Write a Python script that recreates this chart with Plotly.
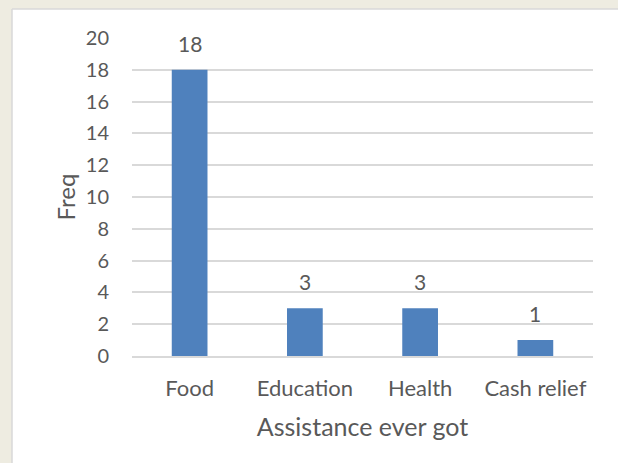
import plotly.graph_objects as go

categories = ["Food", "Education", "Health", "Cash relief"]
freq = [18, 3, 3, 1]
y_ticks = [0, 2, 4, 6, 8, 10, 12, 14, 16, 18, 20]

W, H = 618, 463
L, R, T, B = 132, 25, 38, 107
pw = W - L - R
ph = H - T - B

def px_x(x):
    return (x - L) / pw

def px_y(y):
    return (H - B - y) / ph

FONT = "Lato"
GRAY = "#595959"

fig = go.Figure()
fig.add_trace(go.Bar(
    x=categories, y=freq,
    marker=dict(color="#4F81BD", line=dict(width=0)),
    cliponaxis=False,
))

for c, v in zip(categories, freq):
    fig.add_annotation(x=c, y=v, text=str(v), showarrow=False,
                       yanchor="bottom", yshift=12,
                       font=dict(family=FONT, size=21, color=GRAY))

# white chart panel with light border on left/top
fig.add_shape(type="rect", xref="paper", yref="paper",
              x0=px_x(12), x1=px_x(W + 5), y0=px_y(9), y1=px_y(H + 5),
              fillcolor="white", line=dict(width=0), layer="below")
fig.add_shape(type="line", xref="paper", yref="paper",
              x0=px_x(12), x1=px_x(12), y0=px_y(9), y1=px_y(H + 5),
              line=dict(color="#D9D9D9", width=1.5), layer="below")
fig.add_shape(type="line", xref="paper", yref="paper",
              x0=px_x(12), x1=px_x(W + 5), y0=px_y(9), y1=px_y(9),
              line=dict(color="#D9D9D9", width=1.5), layer="below")

fig.update_layout(
    width=W, height=H,
    margin=dict(l=L, r=R, t=T, b=B),
    paper_bgcolor="#EEECE1",
    plot_bgcolor="rgba(0,0,0,0)",
    bargap=0.69,
    showlegend=False,
    font=dict(family=FONT, size=20, color=GRAY),
    xaxis=dict(
        showline=True, linecolor="#D9D9D9", linewidth=1.5,
        ticks="", tickfont=dict(family=FONT, size=22, color=GRAY),
        ticklabelstandoff=12,
        title=dict(text="Assistance ever got", font=dict(family=FONT, size=25, color=GRAY), standoff=18),
    ),
    yaxis=dict(
        range=[0, 20], tickvals=y_ticks, showgrid=True, gridcolor="#D9D9D9", gridwidth=1.5,
        zeroline=False, showline=False, ticks="",
        tickfont=dict(family=FONT, size=20, color=GRAY), ticklabelstandoff=22,
        title=dict(text="Freq", font=dict(family=FONT, size=24, color=GRAY), standoff=3),
    ),
)

fig.write_html("out.html", config={"displayModeBar": False},
               post_script="document.body.style.margin='0';document.body.style.background='#EEECE1';")
